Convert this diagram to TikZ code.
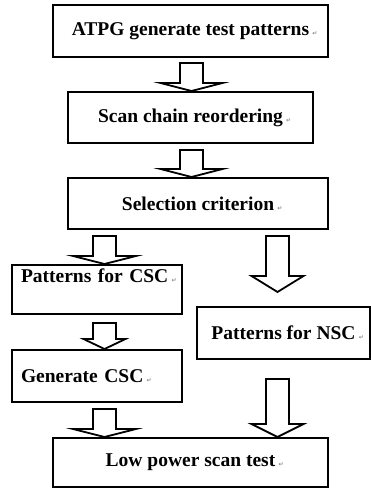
\documentclass[tikz,border=0pt]{standalone}
\usepackage{fontspec}
\usepackage{tikz}
\usetikzlibrary{calc}
\setmainfont{Liberation Serif}
\newfontfamily\markfont{DejaVu Sans}
\definecolor{BoxLine}{HTML}{000000}
\definecolor{MarkGray}{HTML}{8A8A8A}

\newcommand{\parmark}{\rlap{\,{\markfont\fontsize{6}{6}\selectfont\color{MarkGray}↵}}}

% hollow block arrow: start, tip, head half width, head length
\newcommand{\fatarrow}[4]{%
  \draw[fatline] let \p1=(#1), \p2=(#2) in
    (\x1-11.5pt,\y1) -- (\x1-11.5pt,\y2+#4) -- (\x1-#3,\y2+#4) -- (\x1,\y2)
    -- (\x1+#3,\y2+#4) -- (\x1+11.5pt,\y2+#4) -- (\x1+11.5pt,\y1) -- cycle;}

\tikzset{
  flowbox/.style={draw=BoxLine, line width=2pt, inner sep=0pt,
    font=\fontsize{19.5}{22}\selectfont\bfseries},
  leftbox/.style={flowbox, text width=152pt, align=left, inner xsep=9pt},
  fatline/.style={draw=BoxLine, line width=1.8pt, fill=white, line join=miter}
}

\begin{document}
\begin{tikzpicture}[x=1pt, y=1pt]
        \useasboundingbox (0,0) rectangle (371,488);

        \node[flowbox, minimum width=275pt, minimum height=52pt] (atpg) at (190.5,457)
          {ATPG generate test patterns\parmark};
        \node[flowbox, minimum width=245pt, minimum height=51pt] (scan) at (190.5,370.5)
          {Scan chain reordering\parmark};
        \node[flowbox, minimum width=260pt, minimum height=51pt] (sel) at (198,284.5)
          {Selection criterion\parmark};
        \node[leftbox, minimum height=49pt, text height=13pt, text depth=26pt] (pcsc) at (97,198.5)
          {\mbox{Patterns for CSC}\parmark};
        \node[flowbox, minimum width=173pt, minimum height=52pt] (nsc) at (283.5,155)
          {Patterns for NSC\parmark};
        \node[leftbox, minimum height=52pt] (gen) at (97,112)
          {\mbox{Generate CSC}\parmark};
        \node[flowbox, minimum width=275pt, minimum height=49pt] (low) at (190.5,25.5)
          {Low power scan test\parmark};

        \fatarrow{$(atpg.south)+(1,-5)$}{$(scan.north)+(1,0)$}{31pt}{8pt}
        \fatarrow{$(scan.south)+(1,-6)$}{$(sel.north -| scan.north)+(1,0)$}{31pt}{8pt}
        \fatarrow{$(sel.south -| pcsc.north)+(7.5,-6)$}{$(pcsc.north)+(7.5,0)$}{31.5pt}{8pt}
        \fatarrow{$(sel.south -| nsc.north)+(-6,-6)$}{$(nsc.north)+(-6,14)$}{26pt}{16pt}
        \fatarrow{$(pcsc.south)+(7.5,-8)$}{$(gen.north)+(7.5,0)$}{21pt}{10pt}
        \fatarrow{$(gen.south)+(7.5,-6)$}{$(low.north -| gen.south)+(7.5,0)$}{31.5pt}{8pt}
        \fatarrow{$(nsc.south)+(-6,-19)$}{$(low.north -| nsc.south)+(-6,0)$}{26pt}{13pt}
      \end{tikzpicture}
\end{document}
